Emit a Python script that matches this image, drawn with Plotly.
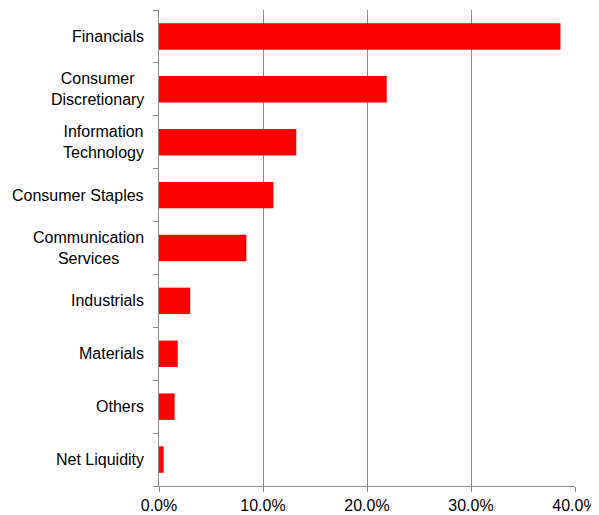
import plotly.graph_objects as go

categories = ["Financials", "Consumer Discretionary", "Information Technology",
              "Consumer Staples", "Communication Services", "Industrials",
              "Materials", "Others", "Net Liquidity"]
label_text = ["Financials", "Consumer<br>Discretionary", "Information<br>Technology",
              "Consumer Staples", "Communication<br>Services", "Industrials",
              "Materials", "Others", "Net Liquidity"]
weights = [38.6, 21.9, 13.2, 11.0, 8.4, 3.0, 1.8, 1.5, 0.45]
x_ticks = [0, 10, 20, 30, 40]
x_tick_labels = ["0.0%", "10.0%", "20.0%", "30.0%", "40.0%"]

FONT = "Liberation Sans, Arial, sans-serif"
GRID = "#8c8c8c"

fig = go.Figure(go.Bar(
    x=weights, y=categories, orientation="h",
    marker=dict(color="#ff0000", line=dict(width=0)),
    hoverinfo="x+y",
))

for cat, lab in zip(categories, label_text):
    fig.add_annotation(
        x=0, xref="paper", y=cat, yref="y", text=lab, showarrow=False,
        xanchor="right", yanchor="middle", align="center", xshift=-13,
        font=dict(family=FONT, size=16, color="#000000"),
    )

# page body has an 8px default margin, so the figure is sized to fit the window
fig.update_layout(
    width=591, height=507,
    margin=dict(l=151, r=24, t=1.5, b=29, pad=0),
    paper_bgcolor="white", plot_bgcolor="white",
    showlegend=False, bargap=0.5,
    font=dict(family=FONT, size=16, color="#000000"),
)
fig.update_xaxes(
    range=[0, 40], tickvals=x_ticks, ticktext=x_tick_labels,
    showgrid=True, gridcolor=GRID, gridwidth=1,
    showline=True, linecolor=GRID, linewidth=1,
    ticks="outside", ticklen=5, tickcolor=GRID,
    zeroline=False, fixedrange=True, automargin=False,
)
fig.update_yaxes(
    categoryorder="array", categoryarray=categories[::-1],
    showticklabels=False, showgrid=False,
    showline=True, linecolor=GRID, linewidth=1,
    ticks="outside", ticklen=5, tickcolor=GRID, tickson="boundaries",
    fixedrange=True, automargin=False,
)

fig.write_html("out.html")
